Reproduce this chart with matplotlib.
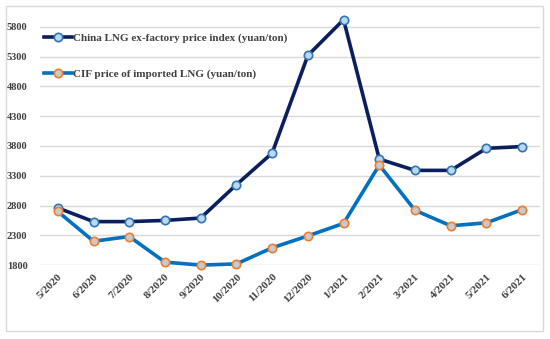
import matplotlib
matplotlib.use("Agg")
import matplotlib.pyplot as plt
from matplotlib.patches import Rectangle

# data
months = ["5/2020", "6/2020", "7/2020", "8/2020", "9/2020", "10/2020", "11/2020",
          "12/2020", "1/2021", "2/2021", "3/2021", "4/2021", "5/2021", "6/2021"]
ex_factory = [2760, 2530, 2530, 2550, 2590, 3150, 3680, 5320, 5920, 3580, 3390, 3390, 3760, 3790]
cif_import = [2700, 2200, 2280, 1850, 1800, 1820, 2090, 2290, 2500, 3480, 2720, 2460, 2510, 2730]
yticks = [1800, 2300, 2800, 3300, 3800, 4300, 4800, 5300, 5800]

plt.rcParams["font.family"] = ["Liberation Serif", "DejaVu Serif"]
plt.rcParams["font.weight"] = "bold"

fig = plt.figure(figsize=(5.5, 3.39), dpi=100)
ax = fig.add_axes([40 / 550, 0.218, 500 / 550, 0.738])

# outer chart border
fig.patches.append(Rectangle((6 / 550, 8 / 339), 537 / 550, 325 / 339, transform=fig.transFigure,
                             fill=False, edgecolor="#D9D9D9", linewidth=1))

x = list(range(len(months)))
ax.plot(x, ex_factory, color="#0B1F5E", linewidth=2.6, marker="o", markersize=6,
        markerfacecolor="#BDD7EE", markeredgecolor="#2E75B6", markeredgewidth=1.2,
        label="China LNG ex-factory price index (yuan/ton)", clip_on=False, zorder=3)
ax.plot(x, cif_import, color="#0070C0", linewidth=2.6, marker="o", markersize=6,
        markerfacecolor="#C9C9C9", markeredgecolor="#ED7D31", markeredgewidth=1.2,
        label="CIF price of imported LNG (yuan/ton)", clip_on=False, zorder=3)

ax.set_xlim(-0.5, len(months) - 0.5)
ax.set_ylim(1800, 6000)
ax.set_yticks(yticks)
ax.set_xticks(x)
ax.set_xticklabels(months, rotation=45, ha="right", rotation_mode="anchor")
ax.tick_params(axis="both", length=0, labelsize=7.5, colors="#404040")
ax.tick_params(axis="x", pad=5, labelsize=8)
ax.tick_params(axis="y", pad=9)
ax.grid(axis="y", color="#D9D9D9", linewidth=1)
ax.set_axisbelow(True)
for s in ax.spines.values():
    s.set_visible(False)

leg = ax.legend(loc="upper left", bbox_to_anchor=(-0.012, 0.968), frameon=False,
                fontsize=8, labelspacing=2.35, handlelength=2.5, handletextpad=0.15)
for t in leg.get_texts():
    t.set_color("#404040")

fig.savefig("out.png", dpi=100)
